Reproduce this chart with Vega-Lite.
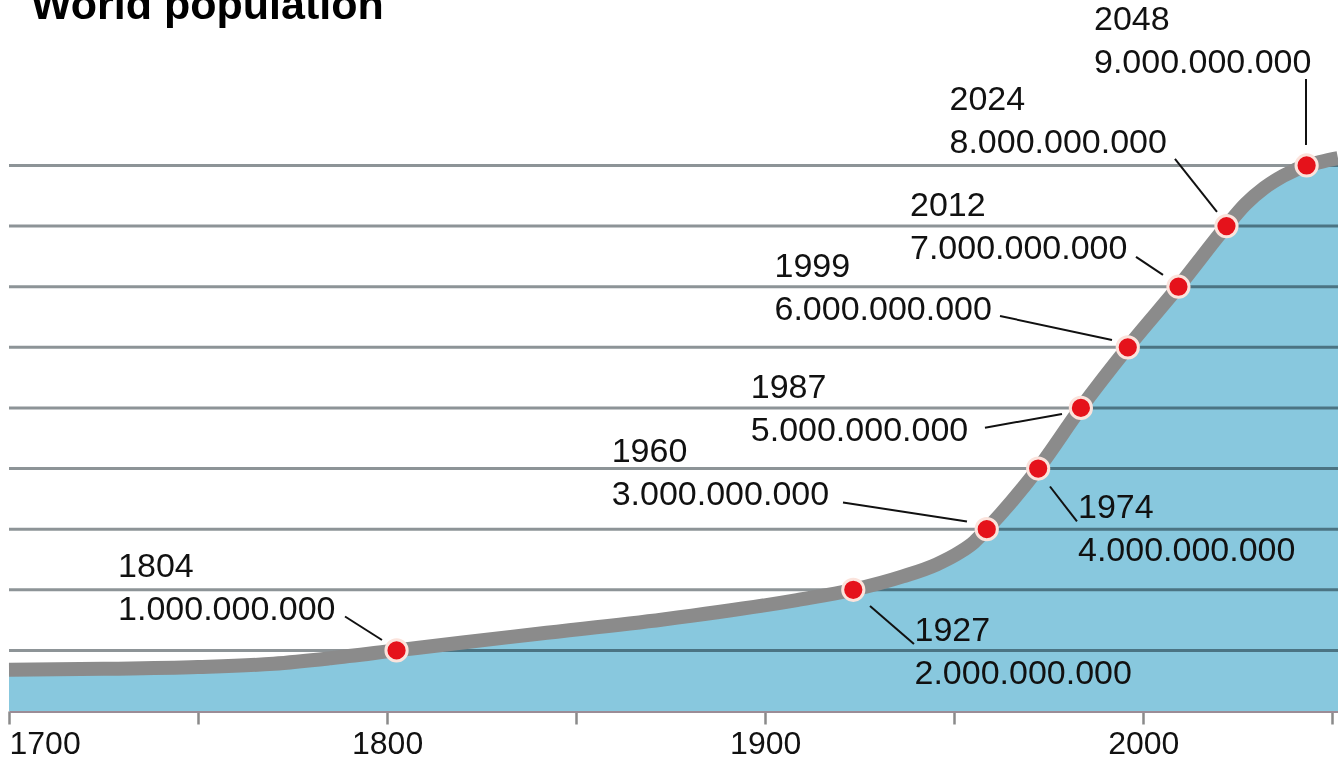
{
  "$schema": "https://vega.github.io/schema/vega-lite/v6.json",
  "width": 1329,
  "height": 711,
  "autosize": {"type": "none"},
  "padding": {"left": 9, "top": 0, "right": 0, "bottom": 51},
  "background": "white",
  "title": {
    "text": "World population",
    "anchor": "start",
    "frame": "group",
    "offset": -62,
    "baseline": "alphabetic",
    "dx": 22,
    "fontSize": 43,
    "fontWeight": "bold",
    "font": "Liberation Sans",
    "color": "#000000"
  },
  "config": {"view": {"stroke": null}},
  "resolve": {"axis": {"x": "independent", "y": "independent"}},
  "datasets": {
    "curve": [
      {"x": 1700.0, "pop": 0.68},
      {"x": 1725.0, "pop": 0.695},
      {"x": 1750.0, "pop": 0.725},
      {"x": 1770.0, "pop": 0.78},
      {"x": 1785.0, "pop": 0.87},
      {"x": 1802.5, "pop": 1.0},
      {"x": 1820.0, "pop": 1.13},
      {"x": 1840.0, "pop": 1.275},
      {"x": 1873.0, "pop": 1.51},
      {"x": 1908.4, "pop": 1.83},
      {"x": 1923.3, "pop": 2.0},
      {"x": 1936.4, "pop": 2.22},
      {"x": 1945.4, "pop": 2.42},
      {"x": 1951.5, "pop": 2.62},
      {"x": 1955.3, "pop": 2.79},
      {"x": 1958.6, "pop": 3.0},
      {"x": 1972.2, "pop": 4.0},
      {"x": 1983.5, "pop": 5.0},
      {"x": 1995.9, "pop": 6.0},
      {"x": 2009.3, "pop": 7.0},
      {"x": 2022.0, "pop": 8.0},
      {"x": 2027.0, "pop": 8.36},
      {"x": 2032.0, "pop": 8.63},
      {"x": 2037.0, "pop": 8.83},
      {"x": 2043.2, "pop": 9.0},
      {"x": 2047.0, "pop": 9.06},
      {"x": 2051.5, "pop": 9.12}
    ],
    "grid": [
      {"g": 1}, {"g": 2}, {"g": 3}, {"g": 4}, {"g": 5}, {"g": 6}, {"g": 7}, {"g": 8}, {"g": 9}
    ],
    "milestones": [
      {"year": "1804", "pop": 1, "x": 1802.5, "label": "1804\n1.000.000.000", "lx": 1728.85, "ly": 2.206, "ax1": 1788.87, "ay1": 1.559, "ax2": 1798.65, "ay2": 1.171},
      {"year": "1927", "pop": 2, "x": 1923.3, "label": "1927\n2.000.000.000", "lx": 1939.49, "ly": 1.155, "ax1": 1927.72, "ay1": 1.732, "ax2": 1939.35, "ay2": 1.105},
      {"year": "1960", "pop": 3, "x": 1958.6, "label": "1960\n3.000.000.000", "lx": 1859.4, "ly": 4.113, "ax1": 1920.58, "ay1": 3.44, "ax2": 1953.37, "ay2": 3.127},
      {"year": "1974", "pop": 4, "x": 1972.2, "label": "1974\n4.000.000.000", "lx": 1982.73, "ly": 3.19, "ax1": 1975.32, "ay1": 3.704, "ax2": 1982.46, "ay2": 3.127},
      {"year": "1987", "pop": 5, "x": 1983.5, "label": "1987\n5.000.000.000", "lx": 1896.19, "ly": 5.169, "ax1": 1958.13, "ay1": 4.674, "ax2": 1978.5, "ay2": 4.9},
      {"year": "1999", "pop": 6, "x": 1995.9, "label": "1999\n6.000.000.000", "lx": 1902.46, "ly": 7.152, "ax1": 1962.1, "ay1": 6.517, "ax2": 1991.72, "ay2": 6.121},
      {"year": "2012", "pop": 7, "x": 2009.3, "label": "2012\n7.000.000.000", "lx": 1938.3, "ly": 8.167, "ax1": 1998.07, "ay1": 7.491, "ax2": 2005.21, "ay2": 7.194},
      {"year": "2024", "pop": 8, "x": 2022.0, "label": "2024\n8.000.000.000", "lx": 1948.74, "ly": 9.916, "ax1": 2008.38, "ay1": 9.107, "ax2": 2019.49, "ay2": 8.233},
      {"year": "2048", "pop": 9, "x": 2043.2, "label": "2048\n9.000.000.000", "lx": 1986.96, "ly": 11.236, "ax1": 2043.03, "ay1": 10.427, "ax2": 2043.03, "ay2": 9.338}
    ]
  },
  "layer": [
    {
      "data": {"name": "curve"},
      "mark": {"type": "area", "interpolate": "monotone", "color": "#88c8de"},
      "encoding": {
        "x": {
          "field": "x", "type": "quantitative",
          "scale": {"domain": [1700, 2051.5], "nice": false, "zero": false},
          "axis": {
            "values": [1700, 1750, 1800, 1850, 1900, 1950, 2000, 2050],
            "format": "d",
            "labelExpr": "datum.value % 100 === 0 ? datum.label : ''",
            "grid": false,
            "title": null,
            "domainColor": "#9b8c96",
            "domainWidth": 3,
            "tickColor": "#8a8a8a",
            "tickWidth": 2.5,
            "tickSize": 13,
            "labelFont": "Liberation Sans",
            "labelFontSize": 32,
            "labelColor": "#111111",
            "labelPadding": 4,
            "labelFlush": true,
            "labelOverlap": false
          }
        },
        "y": {
          "field": "pop", "type": "quantitative",
          "scale": {"domain": [0, 11.73], "nice": false, "zero": true},
          "axis": null
        }
      }
    },
    {
      "data": {"name": "grid"},
      "mark": {"type": "rule", "color": "#8d9497", "strokeWidth": 3, "blend": "multiply"},
      "encoding": {
        "y": {"field": "g", "type": "quantitative", "scale": {"domain": [0, 11.73], "nice": false}, "axis": null}
      }
    },
    {
      "data": {"name": "curve"},
      "mark": {"type": "line", "interpolate": "monotone", "color": "#8b8b8b", "strokeWidth": 14, "strokeCap": "butt"},
      "encoding": {
        "x": {"field": "x", "type": "quantitative", "scale": {"domain": [1700, 2051.5], "nice": false, "zero": false}, "axis": null},
        "y": {"field": "pop", "type": "quantitative", "scale": {"domain": [0, 11.73], "nice": false}, "axis": null}
      }
    },
    {
      "data": {"name": "milestones"},
      "mark": {"type": "rule", "color": "#111111", "strokeWidth": 2},
      "encoding": {
        "x": {"field": "ax1", "type": "quantitative", "scale": {"domain": [1700, 2051.5], "nice": false, "zero": false}, "axis": null},
        "y": {"field": "ay1", "type": "quantitative", "scale": {"domain": [0, 11.73], "nice": false}, "axis": null},
        "x2": {"field": "ax2"},
        "y2": {"field": "ay2"}
      }
    },
    {
      "data": {"name": "milestones"},
      "mark": {"type": "point", "shape": "circle", "filled": true, "fill": "#e5121b", "stroke": "#fbe3dc", "strokeWidth": 3, "size": 450, "opacity": 1},
      "encoding": {
        "x": {"field": "x", "type": "quantitative", "scale": {"domain": [1700, 2051.5], "nice": false, "zero": false}, "axis": null},
        "y": {"field": "pop", "type": "quantitative", "scale": {"domain": [0, 11.73], "nice": false}, "axis": null}
      }
    },
    {
      "data": {"name": "milestones"},
      "mark": {"type": "text", "align": "left", "baseline": "alphabetic", "font": "Liberation Sans", "fontSize": 34, "lineHeight": 43, "lineBreak": "\n", "color": "#111111"},
      "encoding": {
        "x": {"field": "lx", "type": "quantitative", "scale": {"domain": [1700, 2051.5], "nice": false, "zero": false}, "axis": null},
        "y": {"field": "ly", "type": "quantitative", "scale": {"domain": [0, 11.73], "nice": false}, "axis": null},
        "text": {"field": "label", "type": "nominal"}
      }
    }
  ]
}
